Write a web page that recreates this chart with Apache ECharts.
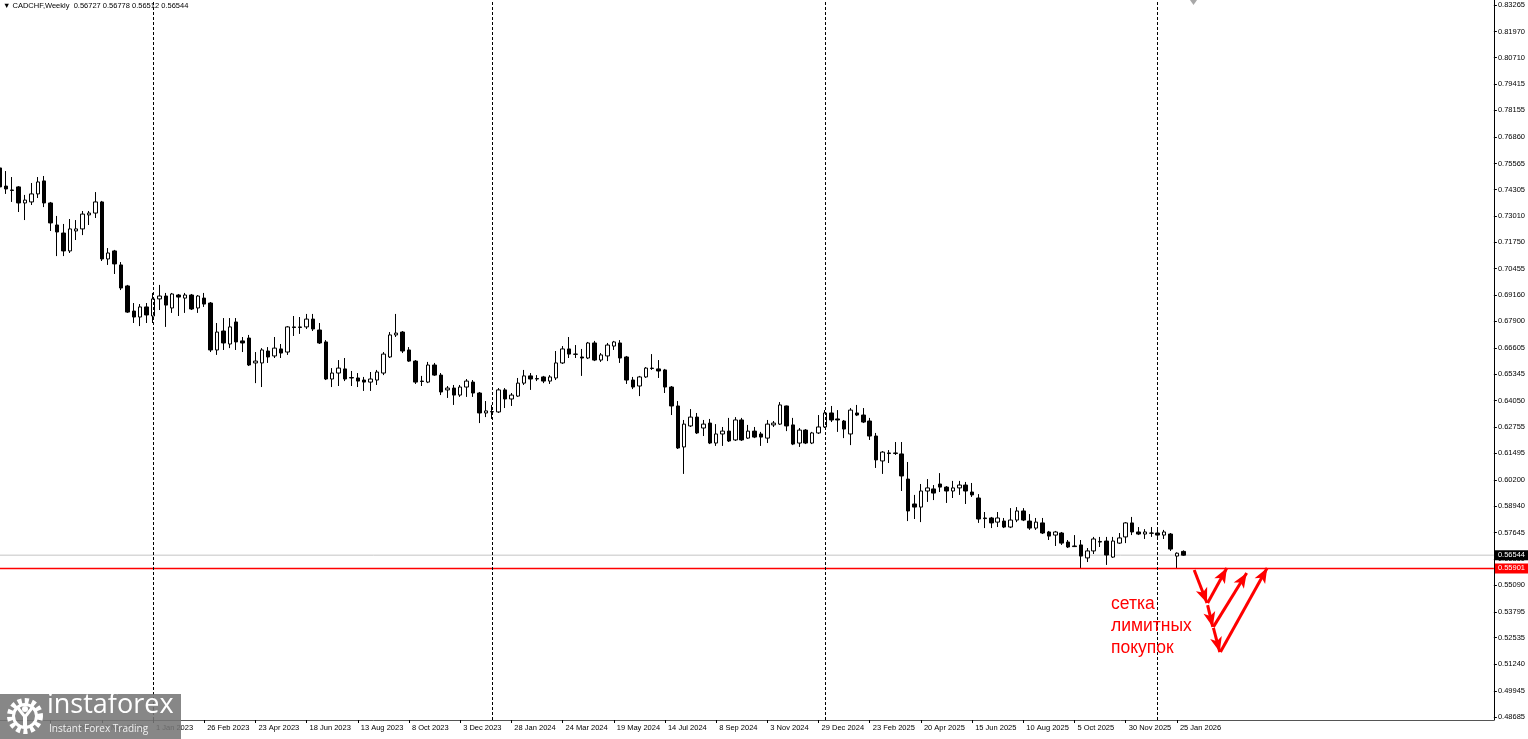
<!DOCTYPE html>
<html><head><meta charset="utf-8">
<script src="https://cdn.jsdelivr.net/npm/echarts@6/dist/echarts.min.js"></script>
<style>html,body{margin:0;padding:0;background:#fff}#c{width:1528px;height:739px}</style>
</head><body><div id="c"></div>
<script>
const symbolName = 'CADCHF,Weekly';
// weekly candles, index 0 = week of 17 Jul 2022
const opens = [0.7535,0.7447,0.7428,0.7443,0.7365,0.7370,0.7409,0.7472,0.7365,0.7258,0.7219,0.7132,0.7229,0.7239,0.7307,0.7316,0.7370,0.7093,0.7132,0.7064,
0.6962,0.6840,0.6811,0.6860,0.6816,0.6899,0.6913,0.6855,0.6918,0.6903,0.6918,0.6855,0.6903,0.6879,0.6651,0.6743,0.6680,0.6787,0.6695,0.6709,
0.6588,0.6588,0.6646,0.6622,0.6656,0.6641,0.6763,0.6760,0.6763,0.6801,0.6748,0.6690,0.6510,0.6539,0.6559,0.6517,0.6515,0.6505,0.6495,0.6505,
0.6539,0.6617,0.6724,0.6738,0.6651,0.6597,0.6500,0.6495,0.6578,0.6529,0.6457,0.6466,0.6432,0.6471,0.6495,0.6442,0.6345,0.6350,0.6350,0.6457,
0.6413,0.6427,0.6490,0.6525,0.6512,0.6520,0.6500,0.6515,0.6588,0.6656,0.6631,0.6617,0.6612,0.6685,0.6602,0.6622,0.6670,0.6685,0.6617,0.6505,
0.6476,0.6520,0.6563,0.6559,0.6554,0.6471,0.6379,0.6180,0.6282,0.6325,0.6272,0.6296,0.6199,0.6243,0.6257,0.6214,0.6311,0.6223,0.6257,0.6243,
0.6223,0.6287,0.6291,0.6379,0.6287,0.6199,0.6262,0.6199,0.6248,0.6277,0.6345,0.6316,0.6306,0.6243,0.6345,0.6335,0.6306,0.6233,0.6112,0.6151,
0.6148,0.6146,0.6024,0.5903,0.5888,0.5966,0.5976,0.6000,0.5985,0.5966,0.5981,0.5995,0.5961,0.5932,0.5835,0.5835,0.5815,0.5820,0.5791,0.5825,
0.5869,0.5820,0.5786,0.5811,0.5767,0.5752,0.5762,0.5718,0.5699,0.5704,0.5641,0.5675,0.5718,0.5723,0.5645,0.5713,0.5743,0.5811,0.5767,0.5757,
0.5762,0.5762,0.5752,0.5757,0.5650,0.56727];
const highs = [0.7564,0.7520,0.7491,0.7447,0.7404,0.7462,0.7491,0.7496,0.7370,0.7302,0.7263,0.7287,0.7282,0.7326,0.7326,0.7418,0.7375,0.7146,0.7137,0.7078,
0.6967,0.6879,0.6874,0.6879,0.6928,0.6967,0.6928,0.6928,0.6923,0.6928,0.6923,0.6918,0.6928,0.6884,0.6782,0.6806,0.6806,0.6806,0.6714,0.6724,
0.6641,0.6660,0.6665,0.6714,0.6680,0.6767,0.6816,0.6811,0.6826,0.6826,0.6782,0.6699,0.6563,0.6602,0.6612,0.6549,0.6539,0.6520,0.6544,0.6554,
0.6641,0.6738,0.6826,0.6743,0.6665,0.6602,0.6525,0.6593,0.6588,0.6539,0.6476,0.6481,0.6481,0.6510,0.6505,0.6447,0.6403,0.6384,0.6466,0.6466,
0.6442,0.6515,0.6554,0.6539,0.6529,0.6525,0.6529,0.6646,0.6670,0.6714,0.6675,0.6656,0.6690,0.6695,0.6636,0.6685,0.6695,0.6699,0.6622,0.6520,
0.6525,0.6568,0.6631,0.6602,0.6559,0.6476,0.6403,0.6311,0.6364,0.6345,0.6311,0.6316,0.6291,0.6277,0.6321,0.6325,0.6321,0.6287,0.6277,0.6253,
0.6311,0.6306,0.6398,0.6381,0.6321,0.6272,0.6267,0.6253,0.6335,0.6359,0.6379,0.6359,0.6311,0.6369,0.6384,0.6369,0.6321,0.6248,0.6160,0.6165,
0.6204,0.6204,0.6107,0.5947,0.6000,0.6024,0.5995,0.6053,0.5990,0.6015,0.6015,0.6010,0.6005,0.5951,0.5864,0.5840,0.5864,0.5835,0.5883,0.5888,
0.5883,0.5854,0.5835,0.5835,0.5772,0.5772,0.5767,0.5728,0.5752,0.5728,0.5689,0.5743,0.5743,0.5743,0.5743,0.5762,0.5815,0.5840,0.5791,0.5781,
0.5791,0.5777,0.5777,0.5762,0.5668,0.56778];
const lows = [0.7428,0.7409,0.7370,0.7321,0.7282,0.7355,0.7389,0.7345,0.7229,0.7107,0.7107,0.7122,0.7185,0.7209,0.7258,0.7292,0.7083,0.7064,0.7020,0.6942,
0.6831,0.6782,0.6767,0.6782,0.6782,0.6845,0.6763,0.6831,0.6816,0.6831,0.6845,0.6831,0.6860,0.6641,0.6627,0.6651,0.6660,0.6651,0.6641,0.6573,
0.6490,0.6471,0.6588,0.6612,0.6612,0.6627,0.6719,0.6729,0.6753,0.6743,0.6680,0.6505,0.6471,0.6476,0.6500,0.6476,0.6471,0.6452,0.6452,0.6481,
0.6529,0.6612,0.6714,0.6636,0.6593,0.6486,0.6476,0.6490,0.6525,0.6432,0.6418,0.6384,0.6423,0.6423,0.6423,0.6296,0.6325,0.6316,0.6345,0.6369,
0.6379,0.6423,0.6481,0.6457,0.6500,0.6490,0.6486,0.6505,0.6583,0.6612,0.6612,0.6525,0.6607,0.6597,0.6593,0.6597,0.6651,0.6588,0.6486,0.6461,
0.6427,0.6515,0.6554,0.6515,0.6442,0.6335,0.6170,0.6049,0.6277,0.6243,0.6233,0.6194,0.6185,0.6185,0.6204,0.6209,0.6209,0.6219,0.6223,0.6185,
0.6199,0.6277,0.6287,0.6257,0.6189,0.6180,0.6194,0.6194,0.6243,0.6272,0.6301,0.6253,0.6223,0.6189,0.6330,0.6296,0.6214,0.6078,0.6049,0.6102,
0.6141,0.5966,0.5820,0.5830,0.5815,0.5913,0.5922,0.5961,0.5908,0.5932,0.5947,0.5903,0.5937,0.5811,0.5786,0.5786,0.5791,0.5786,0.5786,0.5815,
0.5820,0.5777,0.5777,0.5757,0.5728,0.5699,0.5704,0.5689,0.5694,0.5590,0.5621,0.5660,0.5694,0.5607,0.5641,0.5709,0.5713,0.5752,0.5752,0.5733,
0.5743,0.5743,0.5733,0.5675,0.5590,0.56512];
const closes = [0.7443,0.7433,0.7426,0.7365,0.7379,0.7409,0.7467,0.7365,0.7268,0.7224,0.7132,0.7239,0.7239,0.7311,0.7316,0.7370,0.7093,0.7122,0.7069,0.6952,
0.6835,0.6811,0.6860,0.6821,0.6899,0.6913,0.6869,0.6923,0.6908,0.6918,0.6850,0.6913,0.6874,0.6651,0.6738,0.6685,0.6763,0.6690,0.6685,0.6578,
0.6597,0.6651,0.6617,0.6660,0.6636,0.6763,0.6760,0.6763,0.6801,0.6753,0.6685,0.6510,0.6539,0.6563,0.6510,0.6515,0.6500,0.6495,0.6510,0.6544,
0.6631,0.6724,0.6733,0.6646,0.6597,0.6495,0.6498,0.6578,0.6529,0.6447,0.6466,0.6432,0.6471,0.6500,0.6442,0.6345,0.6355,0.6352,0.6457,0.6413,
0.6432,0.6490,0.6525,0.6510,0.6510,0.6500,0.6520,0.6588,0.6656,0.6631,0.6630,0.6612,0.6685,0.6602,0.6627,0.6675,0.6690,0.6612,0.6505,0.6471,
0.6520,0.6563,0.6561,0.6549,0.6471,0.6379,0.6175,0.6291,0.6325,0.6248,0.6291,0.6199,0.6243,0.6257,0.6209,0.6311,0.6214,0.6257,0.6228,0.6228,
0.6291,0.6296,0.6384,0.6282,0.6194,0.6262,0.6199,0.6248,0.6277,0.6345,0.6311,0.6311,0.6267,0.6359,0.6335,0.6301,0.6233,0.6117,0.6155,0.6148,
0.6151,0.6039,0.5869,0.5888,0.5966,0.5981,0.5956,0.5985,0.5966,0.5981,0.5995,0.5966,0.5947,0.5830,0.5832,0.5811,0.5835,0.5791,0.5825,0.5869,
0.5825,0.5786,0.5815,0.5762,0.5747,0.5767,0.5713,0.5694,0.5696,0.5650,0.5675,0.5733,0.5721,0.5655,0.5723,0.5738,0.5811,0.5767,0.5757,0.5767,
0.5761,0.5752,0.5767,0.5684,0.5664,0.56544];
const dateTickIndex = [0,8,16,24,32,40,48,56,64,72,80,88,96,104,112,120,128,136,144,152,160,168,176,184];
const dateTickLabels = ['17 Jul 2022','11 Sep 2022','6 Nov 2022','1 Jan 2023','26 Feb 2023','23 Apr 2023','18 Jun 2023','13 Aug 2023','8 Oct 2023','3 Dec 2023','28 Jan 2024','24 Mar 2024','19 May 2024','14 Jul 2024','8 Sep 2024','3 Nov 2024','29 Dec 2024','23 Feb 2025','20 Apr 2025','15 Jun 2025','10 Aug 2025','5 Oct 2025','30 Nov 2025','25 Jan 2026'];
const priceTickLabels = [0.83265,0.81970,0.80710,0.79415,0.78155,0.76860,0.75565,0.74305,0.73010,0.71750,0.70455,0.69160,0.67900,0.66605,0.65345,0.64050,0.62755,0.61495,0.60200,0.58940,0.57645,0.56350,0.55090,0.53795,0.52535,0.51240,0.49945,0.48685];
const yearSeparators = [24,77,129,181];
const bidPrice = 0.56544;
const limitLevel = 0.55901;
const arrowsDown = [[[186.7,0.5582],[188.7,0.5422]],[[188.8,0.5412],[189.6,0.5306]],[[189.7,0.5301],[190.7,0.5184]]];
const arrowsUp = [[[188.8,0.5422],[191.8,0.5592]],[[189.7,0.5306],[194.9,0.5568]],[[190.8,0.5184],[198.1,0.5592]]];
const noteLines = ['сетка','лимитных','покупок'];
const brandName = 'instaforex';
const brandSlogan = 'Instant Forex Trading';

const FONT = '"Liberation Sans", "DejaVu Sans", sans-serif';
const X_MIN = 0.094, X_MAX = 233.53;
const candleData = opens.map((o, i) => [i, o, closes[i], lows[i], highs[i]]);
const last = candleData[candleData.length - 1];
const header = '\u25BC ' + symbolName + '  ' + [last[1], last[4], last[3], last[2]].map(v => v.toFixed(5)).join(' ');

const redArrow = pair => [
  {coord: pair[0], symbol: 'none'},
  {coord: pair[1], symbol: 'arrow', symbolSize: [9, 15], lineStyle: {color: '#ff0000', width: 3, type: 'solid'}}
];

const levelSeries = (value, lineColor, width, labelBg, z) => ({
  type: 'line', silent: true, symbol: 'none', showSymbol: false, z: z, animation: false, clip: false,
  lineStyle: {color: lineColor, width: width},
  endLabel: {show: true, distance: 1, formatter: () => value.toFixed(5), backgroundColor: labelBg, color: '#fff',
    fontSize: 7.5, fontFamily: FONT, padding: [1, 3, 1, 3]},
  data: [[X_MIN, value], [X_MAX, value]]
});

const chart = echarts.init(document.getElementById('c'), null, {renderer: 'canvas'});
chart.setOption({
  animation: false,
  backgroundColor: '#ffffff',
  grid: {left: 0, right: 34, top: 0, bottom: 19, containLabel: false},
  xAxis: {
    type: 'value', min: X_MIN, max: X_MAX,
    axisLine: {show: true, lineStyle: {color: '#555', width: 1}},
    axisTick: {show: true, customValues: dateTickIndex, length: 3, lineStyle: {color: '#000'}},
    axisLabel: {show: true, customValues: dateTickIndex, color: '#000', fontSize: 7.5, fontFamily: FONT,
      align: 'left', margin: 4, padding: [0, 0, 0, 3],
      formatter: v => dateTickLabels[dateTickIndex.indexOf(Math.round(v))] || ''},
    splitLine: {show: false}
  },
  yAxis: {
    type: 'value', position: 'right', min: 0.48538, max: 0.83508, scale: true,
    axisLine: {show: true, lineStyle: {color: '#000', width: 1}},
    axisTick: {show: true, customValues: priceTickLabels, length: 3, lineStyle: {color: '#000'}},
    axisLabel: {show: true, customValues: priceTickLabels, color: '#000', fontSize: 7.5, fontFamily: FONT,
      margin: 4, formatter: v => v.toFixed(5)},
    splitLine: {show: false}
  },
  series: [
    levelSeries(bidPrice, '#c4c4c4', 1, '#000000', 1),
    {
      type: 'candlestick',
      data: candleData,
      encode: {x: 0, y: [1, 2, 3, 4]},
      barWidth: 4,
      clip: false,
      z: 2,
      itemStyle: {color: '#ffffff', color0: '#000000', borderColor: '#000000', borderColor0: '#000000', borderWidth: 1},
      markLine: {
        silent: true, animation: false, symbol: ['none', 'none'],
        data: [
          ...yearSeparators.map(x => ({xAxis: x, lineStyle: {color: '#000', type: [3, 2], width: 1}, label: {show: false}})),
          ...arrowsDown.map(redArrow),
          ...arrowsUp.map(redArrow)
        ]
      }
    },
    levelSeries(limitLevel, '#ff0000', 1.5, '#ff0000', 3)
  ],
  graphic: [
    {type: 'text', left: 3, top: 2, z: 50, style: {text: header, fill: '#000', font: '7.5px ' + FONT}},
    {type: 'polygon', z: 50, shape: {points: [[1190, 0], [1197, 0], [1193.5, 5]]}, style: {fill: '#a8a8a8'}},
    {type: 'text', left: 1111, top: 593, z: 50, style: {text: noteLines.join('\n'), fill: '#ff0000', font: '17.5px ' + FONT, lineHeight: 22}},
    {type: 'group', z: 100, children: [
      {type: 'rect', shape: {x: 0, y: 694, width: 181, height: 45}, style: {fill: 'rgba(118,118,118,0.88)'}, z: 100},
      {type: 'circle', shape: {cx: 25, cy: 716, r: 15}, style: {fill: 'none', stroke: '#fff', lineWidth: 6, lineDash: [4, 3]}, z: 101},
      {type: 'circle', shape: {cx: 25, cy: 716, r: 11.5}, style: {fill: 'none', stroke: '#fff', lineWidth: 3}, z: 101},
      {type: 'circle', shape: {cx: 25, cy: 709, r: 3}, style: {fill: '#fff'}, z: 101},
      {type: 'polyline', shape: {points: [[18, 708], [25, 717], [32, 708]]}, style: {stroke: '#fff', lineWidth: 3, fill: 'none'}, z: 101},
      {type: 'line', shape: {x1: 25, y1: 716, x2: 25, y2: 728}, style: {stroke: '#fff', lineWidth: 4}, z: 101},
      {type: 'text', left: 47, top: 692, z: 101, style: {text: brandName, fill: '#fff', font: '27px "Open Sans", sans-serif'}},
      {type: 'text', left: 49, top: 724, z: 101, style: {text: brandSlogan, fill: '#f0f0f0', font: '10px "Open Sans", sans-serif'}}
    ]}
  ]
});
</script>
</body></html>
